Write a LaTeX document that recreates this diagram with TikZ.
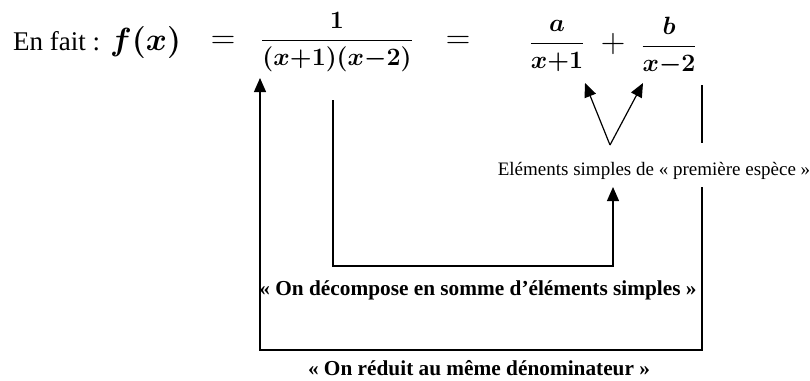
\documentclass[tikz,border=0pt]{standalone}
\usepackage{fix-cm}
\usepackage{fontspec}
\setmainfont{Liberation Serif}
\usepackage{amsmath,bm}
\usetikzlibrary{arrows.meta, positioning, calc}

\begin{document}
\begin{tikzpicture}[x=1pt, y=-1pt,
    conn/.style={line width=1.2pt},
    arr/.style={conn, -{Triangle[length=14pt,width=12pt]}},
    maths/.style={inner sep=0pt, font=\fontsize{25}{29}\selectfont},
    sign/.style={inner sep=0pt, font=\fontsize{34}{38}\selectfont},
    lbl/.style={inner sep=0pt, anchor=base, font=\fontsize{19}{22}\selectfont},
    lblb/.style={inner sep=0pt, anchor=base, font=\fontsize{21.3}{25}\selectfont\bfseries}]
  \useasboundingbox (0,0) rectangle (810,380);
  % top formula
  \node[inner sep=0pt, anchor=base west, font=\fontsize{27}{30}\selectfont] (enfait) at (13,50) {En fait :};
  \node[inner sep=0pt, anchor=base west, font=\fontsize{32}{36}\selectfont] (fx) at (110,50) {$\bm{f(x)}$};
  \node[sign] (eqa) at (223,42) {$=$};
  \node[maths] (fracA) at (337,42) {$\bm{\dfrac{1}{(x{+}1)(x{-}2)}}$};
  \node[sign] (eqb) at (458,42) {$=$};
  \node[maths] (fracB) at (557,46) {$\bm{\dfrac{a}{x{+}1}}$};
  \node[sign] (plus) at (613,44) {$+$};
  \node[maths] (fracC) at (669,46) {$\bm{\dfrac{b}{x{-}2}}$};
  % labels
  \node[lbl] (especes) at (654,175) {Eléments simples de « première espèce »};
  \node[lblb] (decomp) at (478,295) {« On décompose en somme d’éléments simples »};
  \node[lblb] (reduit) at (479,375) {« On réduit au même dénominateur »};
  % connector points
  \coordinate (apex) at (610,145);
  \coordinate (tipA) at (585,83);
  \coordinate (tipB) at (643,83);
  \coordinate (innerTop) at (333,100);
  \coordinate (innerCorner) at (333,266);
  \coordinate (upCorner) at (613,266);
  \coordinate (upTip) at (613,187);
  \coordinate (rightTop) at (702,85);
  \coordinate (rightMid) at (702,143);
  \coordinate (rightLow) at (702,187);
  \coordinate (rightCorner) at (702,350);
  \coordinate (leftCorner) at (260,350);
  \coordinate (leftTip) at (260,78);
  % arrows
  \draw[arr] (apex) -- (tipA);
  \draw[arr] (apex) -- (tipB);
  \draw[arr] (innerTop) -- (innerCorner) -- (upCorner) -- (upTip);
  \draw[conn] (rightTop) -- (rightMid);
  \draw[arr] (rightLow) -- (rightCorner) -- (leftCorner) -- (leftTip);
\end{tikzpicture}
\end{document}
